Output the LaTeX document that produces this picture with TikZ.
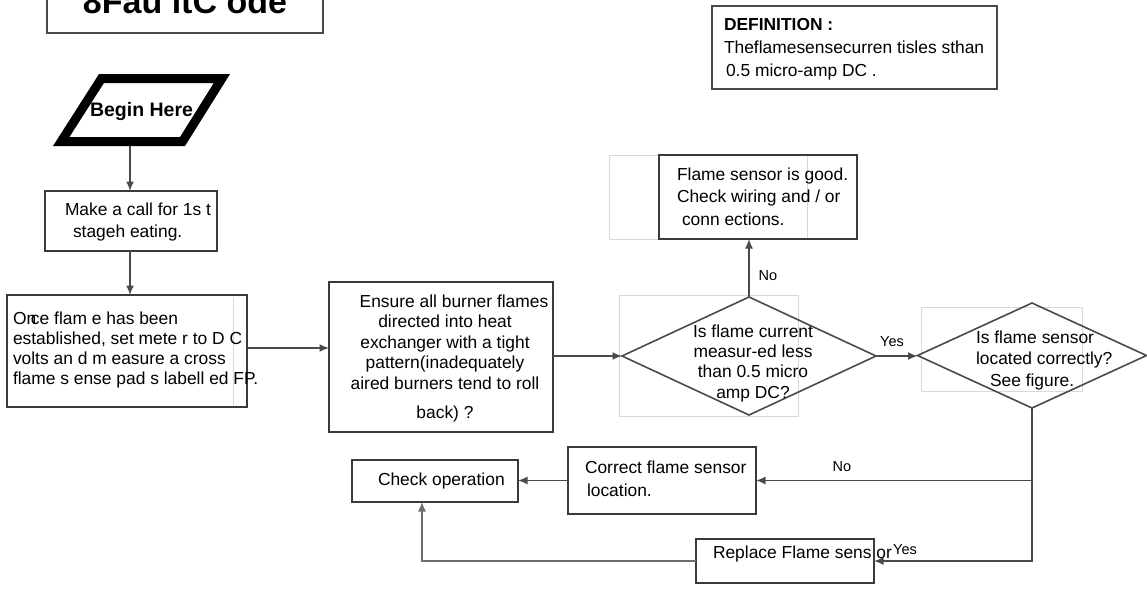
\documentclass[tikz,border=0pt]{standalone}
\usepackage{fontspec}
\setmainfont{Liberation Sans}
\usetikzlibrary{shapes.geometric,arrows.meta,calc}
\definecolor{linec}{HTML}{4A4A4A}
\definecolor{boxc}{HTML}{3A3A3A}
\definecolor{faint}{HTML}{D8D8D8}
\tikzset{
 boxnode/.style={draw=boxc, line width=2pt, rectangle, inner sep=0pt, outer sep=0pt},
 dnode/.style={draw=linec, line width=1.6pt, diamond, inner sep=0pt, outer sep=0pt},
 faintbox/.style={draw=faint, line width=1pt},
 txt/.style={inner sep=0pt, outer sep=0pt, font=\fontsize{17.4}{20.5}\selectfont},
 lbl/.style={inner sep=0pt, outer sep=0pt, font=\fontsize{14.5}{16}\selectfont},
 arr/.style={draw=linec, line width=1.5pt, -{Latex[length=9.5pt,width=8pt]}},
 thinarr/.style={draw=linec!80, line width=1.2pt, -{Latex[length=9.5pt,width=8pt]}},
}
\begin{document}
\begin{tikzpicture}[x=1pt,y=-1pt]
\useasboundingbox (0,0) rectangle (1147,592);
\fill[white] (0,0) rectangle (1147,592);

% faint background rectangles
\draw[faintbox] (619,295) rectangle (798,416);
\draw[faintbox] (609,155) rectangle (807,239);
\draw[faintbox] (921,307) rectangle (1082,391);
\draw[faint, line width=1pt] (233,297) -- (233,405);

% title
\node[boxnode, draw=linec, minimum width=276pt, minimum height=63pt,
      font=\fontsize{34}{40}\selectfont\bfseries] (title) at (185,1.5) {8Fau ltC ode};

% definition
\node[boxnode, draw=linec, minimum width=285pt, minimum height=83pt] (defn) at (854.5,47.5) {};
\node[txt, anchor=north west, align=left, font=\fontsize{17.4}{23}\selectfont] (defntxt) at (724,18.5)
  {\textbf{DEFINITION :}\\Theflamesensecurren tisles sthan\\\hspace*{2pt}0.5 micro-amp DC .};

% begin
\draw[line width=9pt, line join=miter, black] (101.5,78.5) -- (221.9,78.5) -- (182.5,141.5) -- (61.2,141.5) -- cycle;
\node[inner sep=0pt, font=\fontsize{19.5}{22}\selectfont\bfseries] (begin) at (141.5,111) {Begin Here};
\coordinate (beginbot) at (130,146);

% make a call
\node[boxnode, minimum width=172pt, minimum height=60pt] (make) at (131,221) {};
\node[txt, anchor=north west, align=left, font=\fontsize{17.4}{22}\selectfont] (maketxt) at (65,202.5)
  {Make a call for 1s t\\\hspace*{8pt}stageh eating.};

% once
\node[boxnode, minimum width=240pt, minimum height=112pt] (once) at (127,351) {};
\node[txt, anchor=north west, align=left, font=\fontsize{17.4}{20.2}\selectfont] (oncetxt) at (13,311.5)
  {On\kern-0.3em ce flam e has been\\established, set mete r to D C\\volts an d m easure a cross\\flame s ense pad s labell ed FP.};

% ensure
\node[boxnode, minimum width=224pt, minimum height=150pt] (ensure) at (441,357) {};
\node[txt, anchor=north, align=center] (ensuretxt) at (445,294.5)
  {\hspace*{18pt}Ensure all burner flames\\directed into heat\\exchanger with a tight\\pattern(inadequately\\aired burners tend to roll\\[8.5pt]back) ?};

% diamond 1
\node[dnode, minimum width=254pt, minimum height=118pt] (d1) at (749,356) {};
\node[txt, anchor=north, align=center, font=\fontsize{17.4}{20.3}\selectfont] (d1txt) at (753,324.5)
  {Is flame current\\measur-ed less\\than 0.5 micro\\amp DC?};

% good
\node[boxnode, minimum width=198pt, minimum height=84pt] (good) at (758,197) {};
\node[txt, anchor=north west, align=left, font=\fontsize{17.4}{22.5}\selectfont] (goodtxt) at (677,167.5)
  {Flame sensor is good.\\Check wiring and / or\\\hspace*{5pt}conn ections.};

% diamond 2
\node[dnode, minimum width=229pt, minimum height=105pt] (d2) at (1032,355.5) {};
\node[txt, anchor=north west, align=left, font=\fontsize{17.4}{21.5}\selectfont] (d2txt) at (976,330.5)
  {Is flame sensor\\located correctly?\\\hspace*{14pt}See figure.};

% correct
\node[boxnode, minimum width=188pt, minimum height=67pt] (correct) at (662,480.5) {};
\node[txt, anchor=north west, align=left, font=\fontsize{17.4}{23}\selectfont] (correcttxt) at (585,460.5)
  {Correct flame sensor\\\hspace*{2pt}location.};

% check
\node[boxnode, minimum width=166pt, minimum height=42pt] (check) at (435,481) {};
\node[txt, anchor=base west] (checktxt) at (378,485.3) {Check operation};

% replace
\node[boxnode, minimum width=178pt, minimum height=44pt] (replace) at (785,561) {};
\node[txt, anchor=base west] (replacetxt) at (713,558.3) {Replace Flame sens or};

% connectors
\draw[arr] (beginbot) -- (beginbot |- make.north);
\draw[arr] ([xshift=-1pt]make.south) -- ([xshift=-1pt]make.south |- once.north);
\draw[arr] ([yshift=3pt]once.east) -- ([yshift=3pt]once.east -| ensure.west);
\draw[arr] (d1.west -| ensure.east) -- (d1.west);
\draw[arr] (d1.north) -- (d1.north |- good.south);
\draw[arr] (d1.east) -- (d1.east -| d2.west);
\draw[arr] (d2.south) -- (d2.south |- correct.east) -- (correct.east);
\draw[arr] (d2.south) -- (d2.south |- replace.east) -- (replace.east);
\draw[arr] (correct.west) -- (correct.west -| check.east);
\draw[thinarr] (replace.west) -| ([xshift=-13pt]check.south);

% labels
\node[lbl] (lno1) at (768,276) {No};
\node[lbl] (lyes1) at (892,342) {Yes};
\node[lbl] (lno2) at (842,467) {No};
\node[lbl] (lyes2) at (905,550) {Yes};
\end{tikzpicture}
\end{document}
